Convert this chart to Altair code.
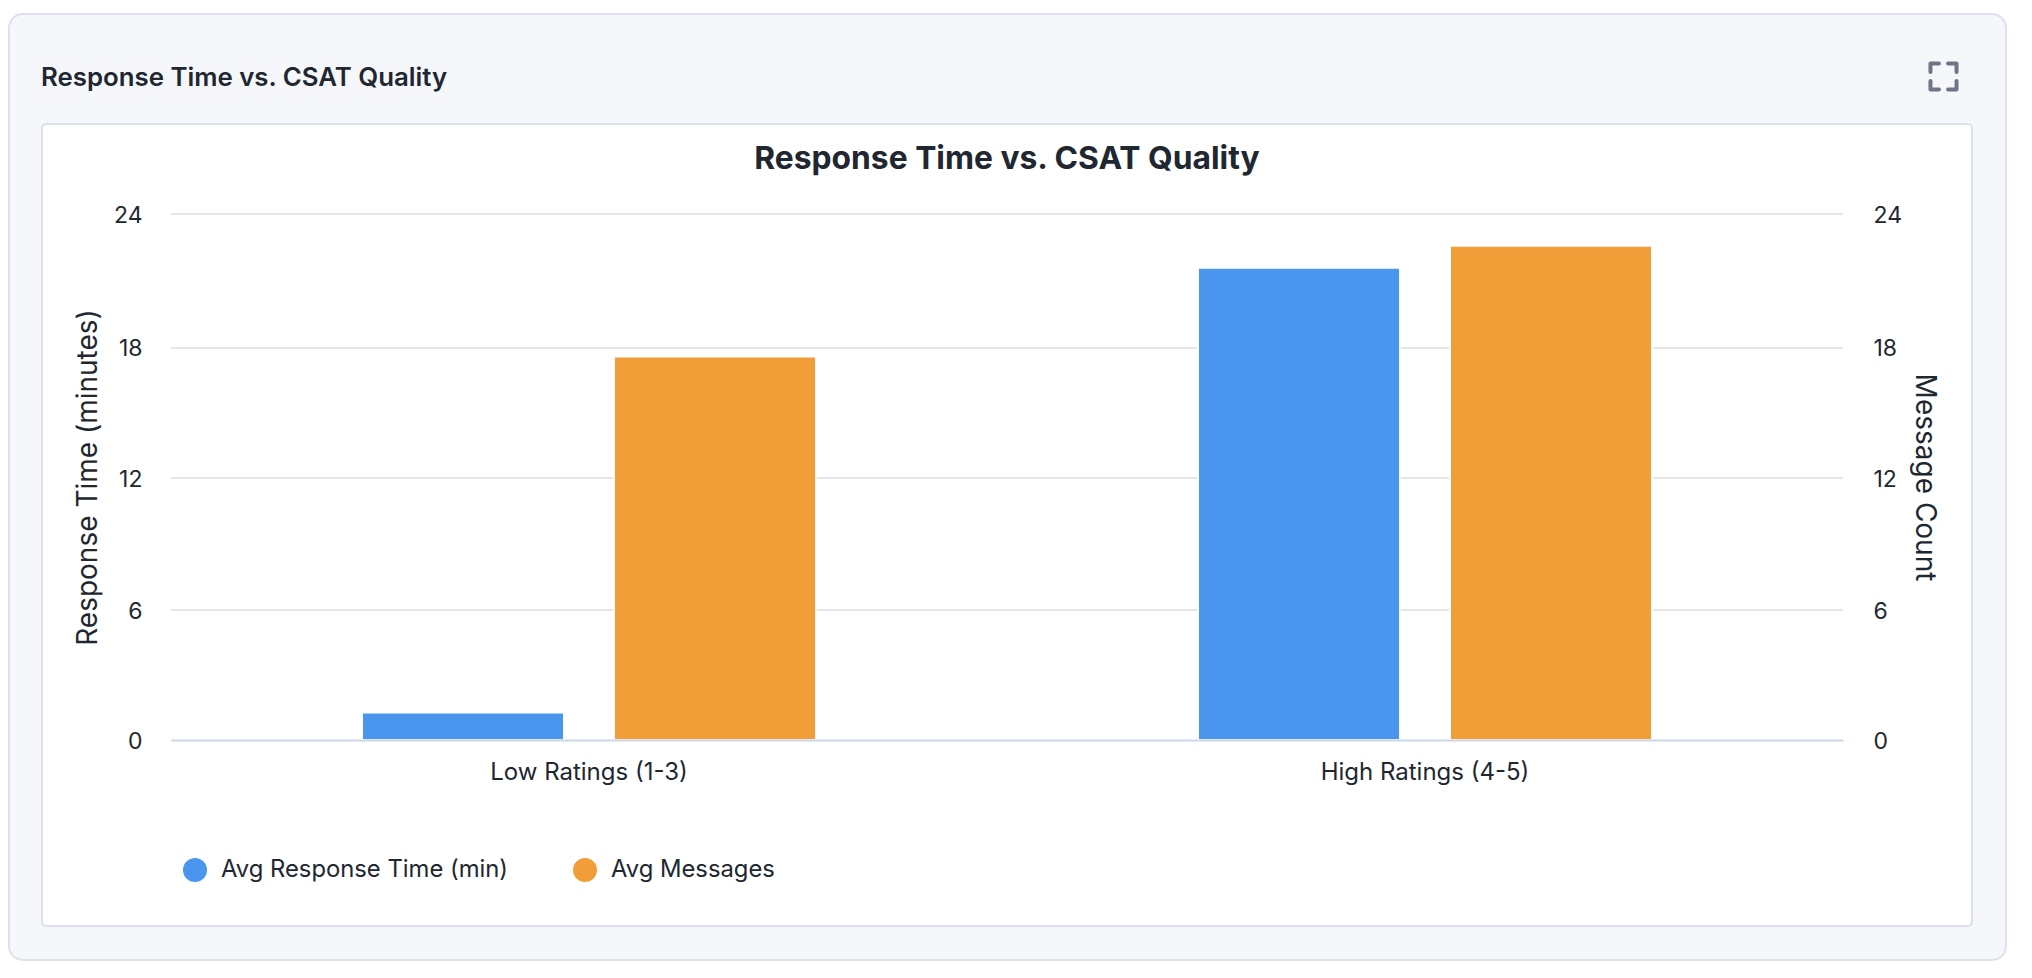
import altair as alt

CATEGORIES = ["Low Ratings (1-3)", "High Ratings (4-5)"]
RESPONSE_NAME = "Avg Response Time (min)"
MESSAGES_NAME = "Avg Messages"
RESPONSE_VALUES = [1.25, 21.55]
MESSAGE_VALUES = [17.5, 22.55]
TICK_POSITIONS = [0, 5.93, 11.95, 17.89, 24]
TITLE = "Response Time vs. CSAT Quality"

INK = "#212730"
FONT = "Inter"
W, H = 1672, 526
OX, OY = 171, 214  # page position of the plot area

response_rows = [{"cat": c, "series": RESPONSE_NAME, "v": v} for c, v in zip(CATEGORIES, RESPONSE_VALUES)]
message_rows = [{"cat": c, "series": MESSAGES_NAME, "v": v} for c, v in zip(CATEGORIES, MESSAGE_VALUES)]
grid_rows = [{"t": t} for t in TICK_POSITIONS[1:]]
one = alt.Data(values=[{"a": 1}])

def panel(x0, y0, x1, y1, fill, stroke, radius):
    return alt.Chart(one).mark_rect(fill=fill, stroke=stroke, strokeWidth=2, cornerRadius=radius).encode(
        x=alt.value(x0 - OX), x2=alt.value(x1 - OX), y=alt.value(y0 - OY), y2=alt.value(y1 - OY))

outer = panel(9, 14, 2006, 960, "#f5f7fb", "#dde1ec", 14)
inner = panel(42, 124, 1972, 926, "#ffffff", "#dbe0ec", 4)

header = alt.Chart(one).mark_text(text=TITLE, font=FONT, fontSize=25.8, fontWeight=600, color=INK,
                                  align="left", baseline="middle").encode(
    x=alt.value(41 - OX), y=alt.value(78 - OY))

main_title = alt.Chart(one).mark_text(text=TITLE, font=FONT, fontSize=31.8, fontWeight=700, color=INK,
                                      align="center", baseline="middle").encode(
    x=alt.value(1007 - OX), y=alt.value(159 - OY))

icon = alt.Chart(one).mark_point(
    shape="M-1,-0.35V-1H-0.35M0.35,-1H1V-0.35M1,0.35V1H0.35M-0.35,1H-1V0.35",
    size=680, filled=False, stroke="#6f7585", strokeWidth=4, strokeCap="round", strokeJoin="round", opacity=1
).encode(x=alt.value(1943.5 - OX), y=alt.value(76.5 - OY))

grid = alt.Chart(alt.Data(values=grid_rows)).mark_rule(color="#e6e6e6", strokeWidth=2).encode(
    x=alt.value(0), x2=alt.value(W),
    y=alt.Y("t:Q", scale=alt.Scale(domain=[0, 24], nice=False), axis=None))

x_enc = alt.X("cat:N", sort=CATEGORIES, title=None,
              scale=alt.Scale(paddingInner=0, paddingOuter=0),
              axis=alt.Axis(labelAngle=0, labelFont=FONT, labelFontSize=24, labelColor=INK, labelPadding=20,
                            labelLimit=0, ticks=False, domainColor="#ccd6eb", domainWidth=2, grid=False, zindex=1))
x_off = alt.XOffset("series:N", sort=[RESPONSE_NAME, MESSAGES_NAME],
                    scale=alt.Scale(domain=[RESPONSE_NAME, MESSAGES_NAME], paddingInner=0.198, paddingOuter=0.758))
color = alt.Color("series:N", scale=alt.Scale(domain=[RESPONSE_NAME, MESSAGES_NAME], range=["#4a96ee", "#f19e38"]),
                  legend=alt.Legend(title=None, orient="none", legendX=12, legendY=644, direction="horizontal",
                                    symbolType="circle", symbolSize=576, symbolStrokeWidth=0,
                                    labelFont=FONT, labelFontSize=23.8, labelColor=INK, labelLimit=0,
                                    labelOffset=14, columnPadding=65))
bar = dict(stroke="#ffffff", strokeWidth=2)

def y_axis(orient, title, pad, label_pad):
    return alt.Axis(orient=orient, title=title, values=TICK_POSITIONS, format=".0f", zindex=1,
                    grid=False, domain=False, ticks=False,
                    labelFont=FONT, labelFontSize=23, labelColor=INK, labelPadding=label_pad, labelOffset=1,
                    titleFont=FONT, titleFontSize=28, titleFontWeight=400, titleColor=INK,
                    titlePadding=pad, titleAngle=270 if orient == "left" else 90)

left = alt.Chart(alt.Data(values=response_rows)).mark_bar(**bar).encode(
    x=x_enc, xOffset=x_off, color=color,
    y=alt.Y("v:Q", scale=alt.Scale(domain=[0, 24], nice=False), axis=y_axis("left", "Response Time (minutes)", 11, 29)))
right = alt.Chart(alt.Data(values=message_rows)).mark_bar(**bar).encode(
    x=x_enc, xOffset=x_off, color=color,
    y=alt.Y("v:Q", scale=alt.Scale(domain=[0, 24], nice=False), axis=y_axis("right", "Message Count", 8, 30)))

chart = alt.layer(outer, inner, header, main_title, icon, grid, left, right).resolve_scale(y="independent").properties(
    width=W, height=H,
    autosize=alt.AutoSizeParams(type="none"),
    padding={"left": OX - 8, "top": OY - 8, "right": 165, "bottom": 222},
    background="#ffffff",
).configure_view(stroke=None)

chart.save("out.html", embed_options={"renderer": "svg", "actions": False})
